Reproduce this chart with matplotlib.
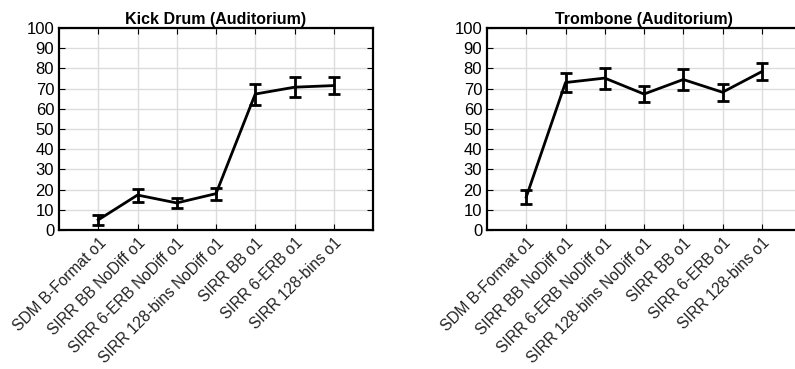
"""
Kick drum / trombone ratings in the auditorium, mean with error bars per method.
"""
import matplotlib
matplotlib.use("Agg")
import matplotlib.pyplot as plt

plt.rcParams["font.family"] = ["Liberation Sans", "DejaVu Sans"]

methods = [
    "SDM B-Format o1",
    "SIRR BB NoDiff o1",
    "SIRR 6-ERB NoDiff o1",
    "SIRR 128-bins NoDiff o1",
    "SIRR BB o1",
    "SIRR 6-ERB o1",
    "SIRR 128-bins o1",
]
kick_mean = [5.0, 17.3, 13.4, 18.0, 67.3, 70.7, 71.5]
kick_err = [2.5, 3.2, 2.3, 3.0, 5.2, 4.8, 4.1]
trombone_mean = [16.3, 73.0, 75.2, 67.3, 74.5, 68.2, 78.4]
trombone_err = [3.5, 4.8, 5.2, 4.1, 5.4, 4.1, 4.2]
titles = ["Kick Drum (Auditorium)", "Trombone (Auditorium)"]


def draw_panel(ax, means, errs, title):
    x = list(range(1, len(methods) + 1))
    ax.errorbar(x, means, yerr=errs, color="black", lw=2, capsize=4,
                capthick=2, elinewidth=2)
    ax.set_xlim(0, len(methods) + 1)
    ax.set_ylim(0, 100)
    ax.set_yticks(range(0, 101, 10))
    ax.set_xticks(x)
    ax.set_xticklabels(methods, rotation=45, ha="right", rotation_mode="anchor",
                       fontsize=11.2, color="#222222")
    ax.tick_params(axis="y", labelsize=12, direction="in", right=True, length=4)
    ax.tick_params(axis="x", direction="in", top=True, length=4, pad=4)
    ax.grid(True, color="#dcdcdc", lw=1)
    ax.set_axisbelow(True)
    for s in ax.spines.values():
        s.set_linewidth(1.6)
    ax.set_title(title, fontsize=11.5, fontweight="bold", pad=3)


fig = plt.figure(figsize=(7.95, 3.69), dpi=100)
ax1 = fig.add_axes([59 / 795, 139 / 369, 314 / 795, 202 / 369])
ax2 = fig.add_axes([487 / 795, 139 / 369, 314 / 795, 202 / 369])
draw_panel(ax1, kick_mean, kick_err, titles[0])
draw_panel(ax2, trombone_mean, trombone_err, titles[1])
fig.savefig("out.png", dpi=100)
